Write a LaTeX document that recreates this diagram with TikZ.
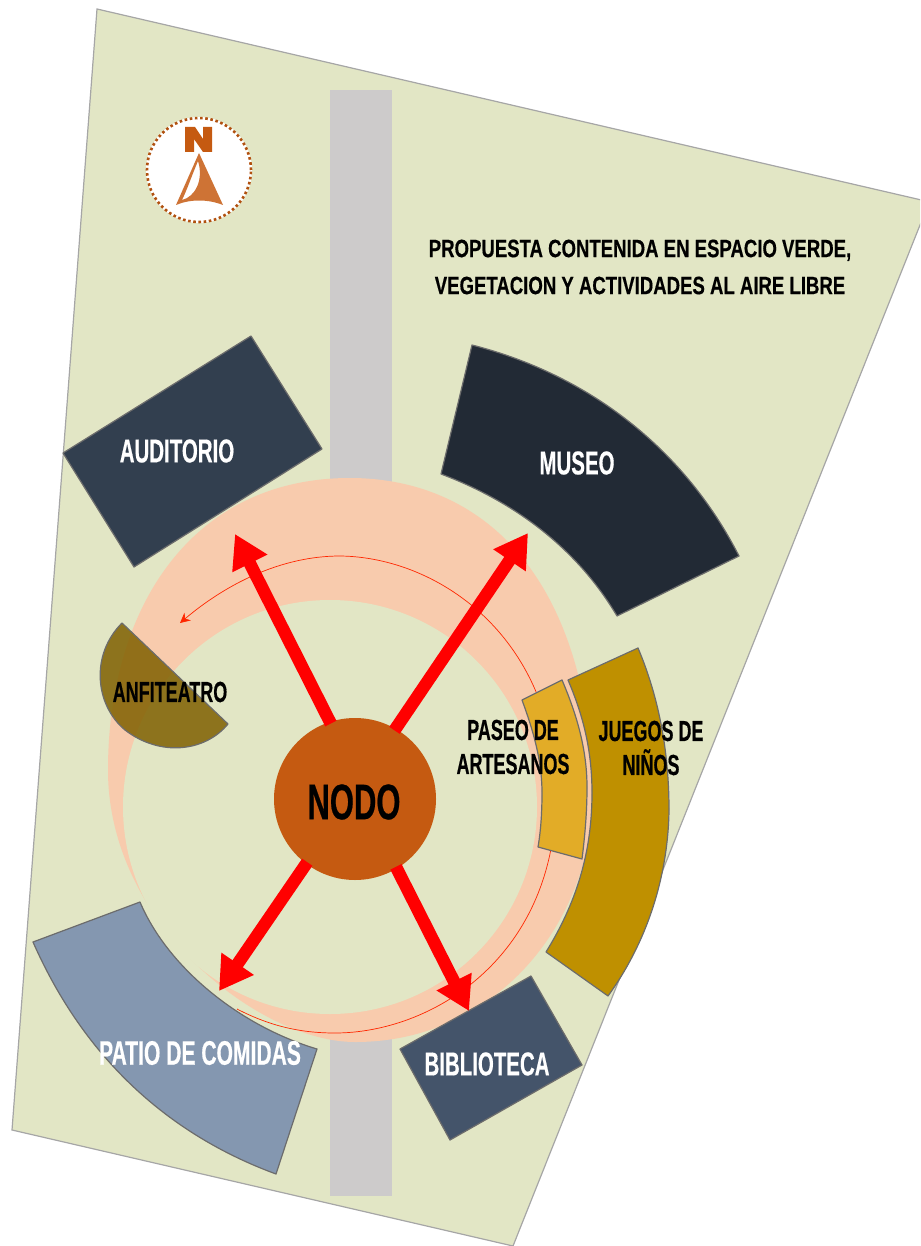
\documentclass[tikz,border=0pt]{standalone}
\usepackage{fontspec}
\setmainfont{Liberation Sans}[FakeStretch=0.62,BoldFeatures={FakeBold=0.4}]
\newfontfamily\titlefont{Liberation Sans}[FakeStretch=0.743,BoldFeatures={FakeBold=0.4}]
\usetikzlibrary{arrows.meta}
\definecolor{land}{HTML}{E2E6C5}
\definecolor{ringc}{HTML}{F8CBAD}
\definecolor{road}{HTML}{CDCBCB}
\definecolor{orng}{HTML}{C55A11}
\definecolor{audc}{HTML}{323F4F}
\definecolor{musc}{HTML}{222A35}
\definecolor{bibc}{HTML}{44546A}
\definecolor{patc}{HTML}{8497B0}
\definecolor{juec}{HTML}{BF9000}
\definecolor{pasc}{HTML}{E2AC27}
\definecolor{anfc}{HTML}{7F6000}
\tikzset{
 px/.style={x=1pt,y=-1pt},
 bld/.style={draw=gray!85!black,line width=1.2pt,line join=round},
 lab/.style={font=\bfseries\fontsize{#1}{#1}\selectfont,text=black,inner sep=0pt,align=center},
 wlab/.style={lab=#1,text=white},
 ray/.style={draw=red,line width=12.5pt,-{Triangle[length=33pt,width=37pt]},shorten <=-2pt},
 thinline/.style={draw=red!70!orange,line width=.7pt}
}
\begin{document}
\begin{tikzpicture}[px]
\useasboundingbox (0,0) rectangle (920,1246);
\clip (0,0) rectangle (920,1246);
\draw[fill=land,draw=gray!70,line width=1.2pt] (97,9) -- (930,202) -- (920,225) -- (513,1246) -- (12,1130) -- cycle;
\fill[road] (330,90) rectangle (392,1196);
% ring: outer shape, then the open centre
\fill[ringc] (350,478) .. controls (470,478) and (585,560) .. (594,790)
 .. controls (592,925) and (495,1042) .. (355,1042)
 .. controls (260,1042) and (108,925) .. (108,770)
 .. controls (108,610) and (190,478) .. (350,478) -- cycle;
\fill[land] (330,807) circle[radius=207pt];
% thin line
\draw[thinline,-{Stealth[length=10pt,width=10pt]}] (237,1009) .. controls (270,1026) and (300,1033) .. (335,1033)
 .. controls (430,1033) and (553,960) .. (556,800)
 .. controls (558,640) and (440,557) .. (340,556)
 .. controls (280,556) and (225,585) .. (180,623);
% buildings
\draw[bld,fill=patc] (33,942) -- (140,902) .. controls (168,968) and (240,1026) .. (317,1049) -- (276,1174) .. controls (170,1135) and (85,1060) .. (33,942) -- cycle;
\draw[bld,fill=audc] (251,336) -- (322,449) -- (134,567) -- (63,453) -- cycle;
\draw[bld,fill=musc] (472,345) .. controls (590,375) and (685,450) .. (739,556) -- (617,616) .. controls (575,545) and (510,500) .. (441,474) -- cycle;
\draw[bld,fill=bibc] (531,976) -- (582,1065) -- (450,1140) -- (400,1049) -- cycle;
\draw[bld,fill=juec] (638,648) .. controls (660,700) and (669,755) .. (669,810) .. controls (668,880) and (645,945) .. (608,996) -- (546,952) .. controls (575,905) and (592,855) .. (592,793) .. controls (592,750) and (583,715) .. (568,680) -- cycle;
\draw[bld,fill=pasc] (562,680) .. controls (577,715) and (587,750) .. (587,787) .. controls (587,812) and (585,835) .. (582,859) -- (538,847) .. controls (541,830) and (542,810) .. (542,793) .. controls (542,760) and (533,730) .. (522,700) -- cycle;
\draw[bld,fill=anfc,fill opacity=.85] (122,623) .. controls (90,655) and (95,705) .. (125,730) .. controls (160,757) and (205,752) .. (228,724) -- cycle;
% nodo
\node[circle,fill=orng,minimum size=162pt,inner sep=0pt] (nodo) at (355,799) {};
\coordinate (tnw) at (235,534);
\coordinate (tne) at (528,533);
\coordinate (tsw) at (219,991);
\coordinate (tse) at (469,1011);
\draw[ray] (nodo.108) -- (tnw);
\draw[ray] (nodo.60) -- (tne);
\draw[ray] (nodo.233) -- (tsw);
\draw[ray] (nodo.-59) -- (tse);
% labels
\node[lab=50] (lnodo) at (354,802) {NODO};
\node[wlab=33] (laud) at (177,451) {AUDITORIO};
\node[wlab=33] (lmus) at (577,463) {MUSEO};
\node[lab=29] (lanf) at (170,692) {ANFITEATRO};
\node[lab=29] (lpas) at (513,747) {PASEO DE\\[5pt]ARTESANOS};
\node[lab=29] (ljue) at (651,748) {JUEGOS DE\\[5pt]NIÑOS};
\node[wlab=33] (lbib) at (487,1064) {BIBLIOTECA};
\node[wlab=34] (lpat) at (200,1053) {PATIO DE COMIDAS};
\node[lab=25,font=\titlefont\bfseries\fontsize{25}{25}\selectfont] (ltit) at (640,267) {PROPUESTA CONTENIDA EN ESPACIO VERDE,\\[12pt]VEGETACION Y ACTIVIDADES AL AIRE LIBRE};
% compass
\node[circle,fill=white,minimum size=106pt,inner sep=0pt] (comp) at (199,170) {};
\draw[orng!90!black,line width=2.6pt,dash pattern=on 2.6pt off 2.6pt] (comp) circle[radius=52pt];
\fill[orng] (185,127) -- (195,127) -- (203,139) -- (203,127) -- (212,127) -- (212,152) -- (203,152) -- (194,139) -- (194,152) -- (185,152) -- cycle;
\fill[orng!85!white,even odd rule] (199,153) -- (223,205) .. controls (208,199) and (190,199) .. (176,205) -- cycle
 (198,161) .. controls (192,175) and (187,190) .. (182,200) .. controls (195,197) and (204,180) .. (198,161) -- cycle;
\end{tikzpicture}
\end{document}
